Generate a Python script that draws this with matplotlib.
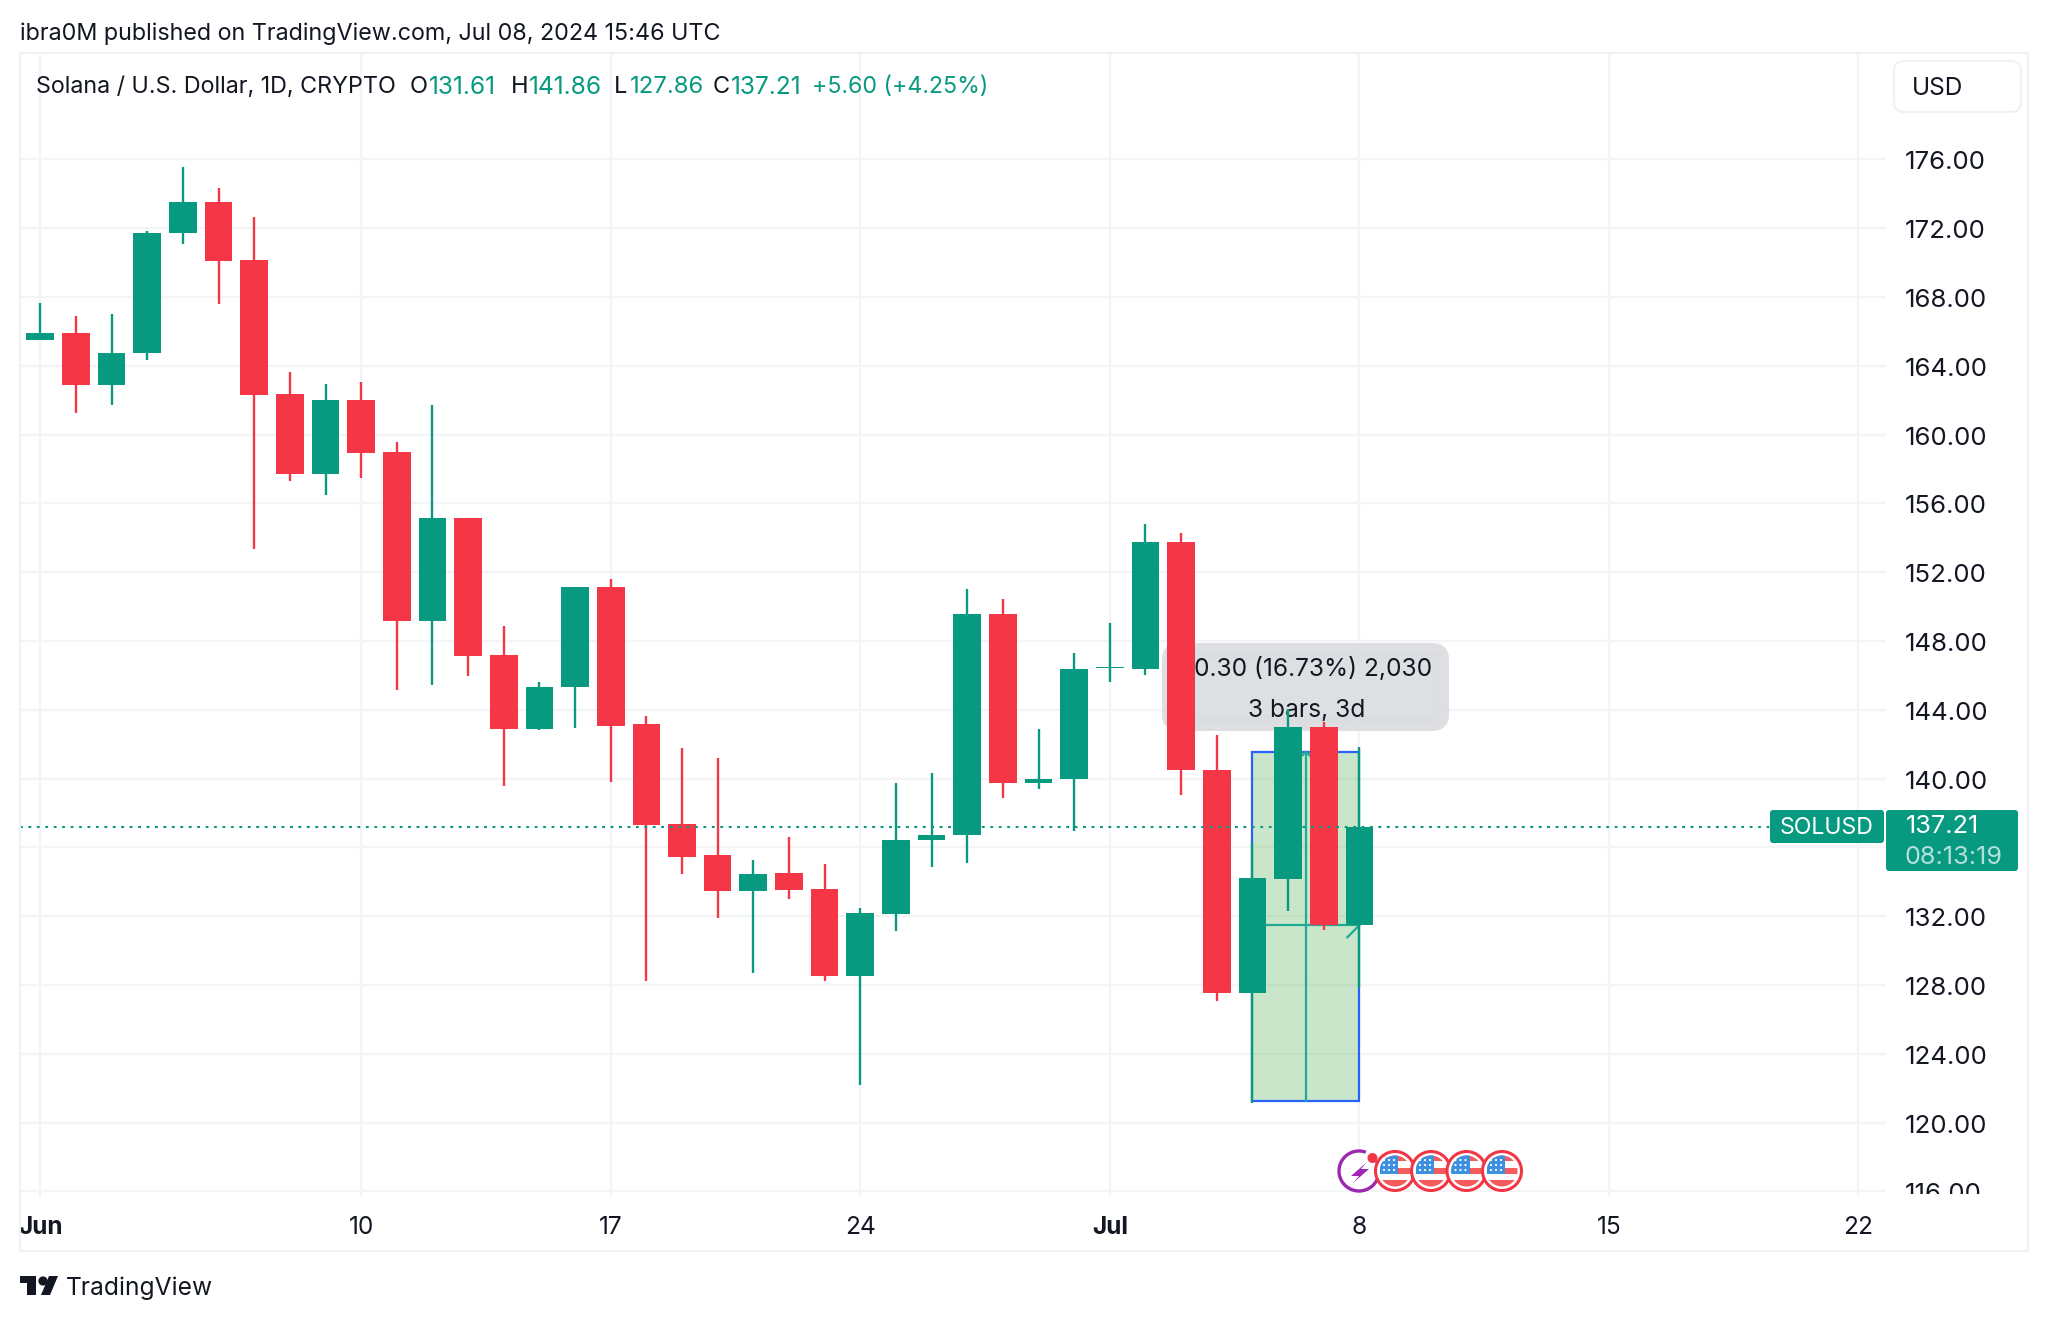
import matplotlib
matplotlib.use("Agg")
import matplotlib.pyplot as plt
from matplotlib.patches import Rectangle, FancyBboxPatch, Circle, Polygon, Arc
from matplotlib.transforms import Affine2D, Bbox

W, H = 2048, 1321
FONT = "Inter"
plt.rcParams["font.family"] = [FONT, "DejaVu Sans"]

# Daily candles, Jun 1 .. Jul 8 2024 (index = days since Jun 1)
opens = [165.49, 165.94, 162.91, 164.75, 171.70, 173.52, 170.13, 162.39, 157.69, 162.04,
         158.99, 149.15, 155.15, 147.17, 142.89, 145.31, 151.13, 143.16, 137.35, 135.55,
         133.48, 134.50, 133.58, 128.55, 132.16, 136.41, 136.71, 149.59, 139.77, 139.97,
         146.41, 146.39, 153.74, 140.52, 127.56, 134.18, 142.99, 131.50]
highs = [167.66, 166.93, 167.04, 171.82, 175.54, 174.32, 172.65, 163.65, 162.97, 163.08,
         159.57, 161.71, 155.15, 148.90, 145.64, 151.13, 151.60, 143.66, 141.78, 141.22,
         135.25, 136.63, 135.02, 132.50, 139.75, 140.35, 151.04, 150.46, 142.88, 147.31,
         149.07, 154.80, 154.27, 142.54, 136.29, 144.05, 143.28, 141.86]
lows = [165.49, 161.24, 161.71, 164.35, 171.10, 167.60, 153.38, 157.28, 156.47, 157.46,
        145.14, 145.47, 145.99, 139.55, 142.81, 142.95, 139.78, 128.21, 134.44, 131.88,
        128.73, 133.02, 128.21, 122.18, 131.12, 134.86, 135.12, 138.87, 139.43, 136.97,
        145.65, 146.03, 139.05, 127.06, 121.12, 132.33, 131.19, 127.86]
closes = [165.94, 162.91, 164.73, 171.74, 173.52, 170.09, 162.33, 157.69, 162.04, 158.95,
          149.15, 155.15, 147.14, 142.89, 145.33, 151.13, 143.06, 137.33, 135.47, 133.48,
          134.48, 133.54, 128.55, 132.20, 136.45, 136.73, 149.59, 139.77, 140.00, 146.37,
          146.49, 153.74, 140.52, 127.56, 134.22, 142.99, 131.48, 137.21]
days = list(range(len(opens)))

last_price = 137.21
price_ticks = [176, 172, 168, 164, 160, 156, 152, 148, 144, 140, 136, 132, 128, 124, 120, 116]
date_ticks = [0, 9, 16, 23, 30, 37, 44, 51]
date_labels = ["Jun", "10", "17", "24", "Jul", "8", "15", "22"]

# Price-range measurement drawing
range_start, range_end = 34, 37
range_low, range_high = 121.27, 141.57
range_entry = 131.48

GREEN = "#089981"
RED = "#f43647"
GRID = "#f3f4f6"
INK = "#131722"

fig = plt.figure(figsize=(W / 100, H / 100), dpi=100, facecolor="white")
px = Affine2D().scale(1, -1).translate(0, H)  # figure pixels, y downward

# Pane geometry
L, R, T, B = 20, 1886, 53, 1197
DAY = 35.65
X0 = 40.3
PY0, PSTEP = 159.5, 17.2
ax = fig.add_axes([L / W, 1 - B / H, (R - L) / W, (B - T) / H])
ax.set_xlim((L - X0) / DAY, (R - X0) / DAY)
ax.set_ylim(176 - (B - PY0) / PSTEP, 176 - (T - PY0) / PSTEP)
ax.patch.set_alpha(0)
for s in ax.spines.values():
    s.set_visible(False)
ax.set_axisbelow(True)
ax.grid(True, color=GRID, lw=1.6)
ax.yaxis.tick_right()
ax.set_yticks(price_ticks, [f"{p:.2f}" for p in price_ticks])
ax.set_xticks(date_ticks, date_labels)
ax.tick_params(axis="both", length=0, labelcolor=INK)
ax.tick_params(axis="y", labelsize=18.6, pad=13.8)
ax.tick_params(axis="x", labelsize=17.6, pad=13.5)
for lab in ax.get_xticklabels():
    if lab.get_text() in ("Jun", "Jul"):
        lab.set_fontweight("bold")
clip = Bbox([[0, H - 1194], [W, H]])
for lab in ax.get_yticklabels():
    lab.set_transform(lab.get_transform() + Affine2D().translate(0, -1.0))
    lab.set_clip_box(clip)
    lab.set_clip_on(True)

# Tooltip (sits under the candles)
ax.add_patch(FancyBboxPatch((1170, 651), 271, 72, boxstyle="round,pad=0,rounding_size=8", mutation_aspect=1,
                            transform=px, fc="#dcdde0", ec="#dcdde0", lw=16 * 0.72, alpha=0.92, zorder=1.5, clip_on=False))
ax.text(1305.5, 669.5, "20.30 (16.73%) 2,030", transform=px, ha="center", va="center", fontsize=17.7, color=INK, zorder=1.6)
ax.text(1306.5, 710.5, "3 bars, 3d", transform=px, ha="center", va="center", fontsize=17.7, color=INK, zorder=1.6)

# Measurement box
ax.add_patch(Rectangle((range_start, range_low), range_end - range_start, range_high - range_low,
                       fc=(76 / 255, 175 / 255, 80 / 255, 0.3), ec="#2962ff", lw=1.6, zorder=2))
mid = (range_start + range_end) / 2
ax.plot([mid, mid], [range_low, range_high], color="#22ab94", lw=1.6, zorder=2.1)
ax.plot([range_start, range_end], [range_entry, range_entry], color="#22ab94", lw=1.6, zorder=2.1)
d = 12 / DAY
dp = 12 / PSTEP
ax.plot([mid - d, mid, mid + d], [range_high - dp, range_high, range_high - dp], color="#22ab94", lw=1.6, zorder=2.1)
ax.plot([range_end - d, range_end, range_end - d], [range_entry + dp, range_entry, range_entry - dp], color="#22ab94", lw=1.6, zorder=2.1)

# Candles
colors = [GREEN if c >= o else RED for o, c in zip(opens, closes)]
ax.vlines(days, lows, highs, colors=colors, lw=1.7, zorder=3)
ax.bar(days, [abs(c - o) for o, c in zip(opens, closes)], bottom=[min(o, c) for o, c in zip(opens, closes)],
       width=0.775, color=colors, lw=0, zorder=3.1)

# Last-price line
ax.plot([(L - X0) / DAY, (1770 - X0) / DAY], [last_price, last_price], color=GREEN, lw=1.5,
        dashes=(1.35, 2.7), zorder=4)

# Chrome overlay
ov = fig.add_axes([0, 0, 1, 1], zorder=5)
ov.set_xlim(0, W)
ov.set_ylim(H, 0)
ov.axis("off")
ov.patch.set_alpha(0)

EDGE = "#f0f1f7"
for (xs, ys) in [([20, 2028], [53, 53]), ([20, 2028], [1251, 1251]), ([20, 20], [53, 1251]), ([2028, 2028], [53, 1251])]:
    ov.plot(xs, ys, color=EDGE, lw=1.5, solid_capstyle="butt")

ov.text(20, 33.5, "ibra0M published on TradingView.com, Jul 08, 2024 15:46 UTC", fontsize=16.8, color=INK, va="center", ha="left")
ov.text(36, 87, "Solana / U.S. Dollar, 1D, CRYPTO", fontsize=16.8, color=INK, va="center")
for x, s, c, fs in [(410, "O", INK, 17), (429, "131.61", GREEN, 17.7), (511, "H", INK, 17), (529, "141.86", GREEN, 17.7),
                    (614, "L", INK, 17), (630, "127.86", GREEN, 17.3), (713, "C", INK, 17), (731, "137.21", GREEN, 17.7),
                    (812, "+5.60 (+4.25%)", GREEN, 16.7)]:
    ov.text(x, 87, s, fontsize=fs, color=c, va="center")

# USD button
ov.add_patch(FancyBboxPatch((1894, 61), 127, 51, boxstyle="round,pad=0,rounding_size=10", fc="white", ec=EDGE, lw=1.5))
ov.text(1912, 88.5, "USD", fontsize=17.6, color=INK, va="center")

# Price tags
ov.add_patch(FancyBboxPatch((1770, 810), 114, 33, boxstyle="round,pad=0,rounding_size=3", fc=GREEN, ec="none"))
ov.add_patch(FancyBboxPatch((1886, 810), 132, 61, boxstyle="round,pad=0,rounding_size=3", fc=GREEN, ec="none"))
ov.text(1827, 828, "SOLUSD", fontsize=16.6, color="white", va="center", ha="center")
ov.text(1906, 826.5, "137.21", fontsize=18.2, color="white", va="center")
ov.text(1905, 857, "08:13:19", fontsize=18.2, color="#b5e0d9", va="center")

# Logo
ov.add_patch(Polygon([(20, 1276), (36, 1276), (36, 1295), (27, 1295), (27, 1283), (20, 1283)], fc=INK, ec="none"))
ov.add_patch(Circle((43, 1281), 4.6, fc=INK, ec="none"))
ov.add_patch(Polygon([(49, 1276), (58, 1276), (50, 1295), (41, 1295)], fc=INK, ec="none"))
ov.text(66, 1288.5, "TradingView", fontsize=17.7, color=INK, va="center")

# Event icons
ICON_Y = 1171
ov.add_patch(Circle((1359, ICON_Y), 20, fc="white", ec="none"))
ov.add_patch(Arc((1359, ICON_Y), 40, 40, theta1=-30, theta2=290, ec="#9c27b0", lw=2.4))
ov.add_patch(Polygon([(1367, 1162), (1351, 1176), (1359, 1176), (1353, 1183), (1369, 1169), (1361, 1169)], fc="#9c27b0", ec="none"))
ov.add_patch(Circle((1372.5, 1158), 5, fc="#f23645", ec="none"))
for cx in (1395, 1431, 1466.5, 1502):
    ov.add_patch(Circle((cx, ICON_Y), 19.5, fc="white", ec="#f23645", lw=2.2))
    inner = Circle((cx, ICON_Y), 15.5, transform=ov.transData)
    for (x, y, w, h, c) in [(-16, -16, 32, 6, "#f45b5b"), (3, -3.5, 13, 6.5, "#f45b5b"),
                            (-16, 9, 32, 7.5, "#f45b5b"), (-15.5, -16, 18.5, 19, "#3d8fe0")]:
        r = Rectangle((cx + x, ICON_Y + y), w, h, fc=c, ec="none")
        ov.add_patch(r)
        r.set_clip_path(inner)
    for sx in (-11, -6, -1):
        for sy in (-11, -6, -1):
            ov.add_patch(Circle((cx + sx, ICON_Y + sy), 1.1, fc="white", ec="none"))

fig.savefig("out.png", dpi=100, facecolor="white")
